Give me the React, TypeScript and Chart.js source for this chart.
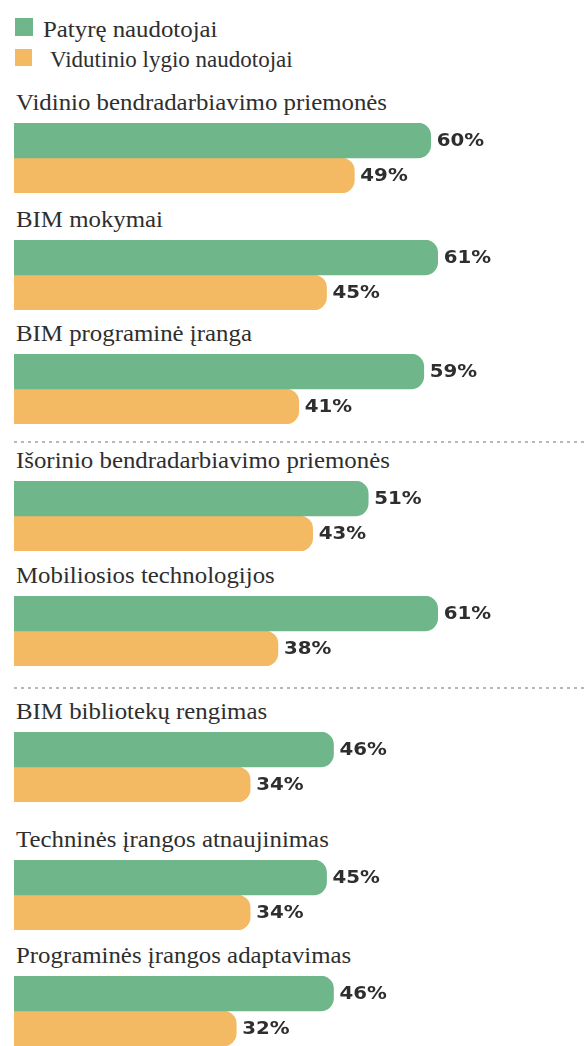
import React, { useEffect, useRef } from "react";
import { Chart, registerables } from "chart.js";

Chart.register(...registerables);

// ---- data ----
const categories = [
  "Vidinio bendradarbiavimo priemonės",
  "BIM mokymai",
  "BIM programinė įranga",
  "Išorinio bendradarbiavimo priemonės",
  "Mobiliosios technologijos",
  "BIM bibliotekų rengimas",
  "Techninės įrangos atnaujinimas",
  "Programinės įrangos adaptavimas",
];
const seriesNames = ["Patyrę naudotojai", "Vidutinio lygio naudotojai"];
const experienced = [60, 61, 59, 51, 61, 46, 45, 46];
const intermediate = [49, 45, 41, 43, 38, 34, 34, 32];

// ---- layout / style ----
const X_MAX = 82.5;
const GREEN = "#6fb68a";
const ORANGE = "#f4b963";
const TEXT = "#2e2e2e";
const groupTops = [123, 240, 354, 481, 596, 732, 860, 976];
const separators = [441, 687];
const LABEL_GAP = 13;

const valueLabels = {
  id: "valueLabels",
  afterDatasetsDraw(chart: any) {
    const ctx = chart.ctx;
    chart.data.datasets.forEach((ds: any, di: number) => {
      const meta = chart.getDatasetMeta(di);
      meta.data.forEach((el: any, j: number) => {
        ctx.save();
        ctx.font = "bold 18px 'DejaVu Sans'";
        ctx.fillStyle = TEXT;
        ctx.textBaseline = "middle";
        ctx.textAlign = "left";
        ctx.translate(el.x + 6, el.y + 1);
        ctx.scale(1.1, 1);
        ctx.fillText(ds.data[j] + "%", 0, 0);
        ctx.restore();
      });
    });
  },
};

function GroupChart({ index }: { index: number }) {
  const ref = useRef<HTMLCanvasElement | null>(null);
  useEffect(() => {
    if (!ref.current) return;
    const chart = new Chart(ref.current, {
      type: "bar",
      data: {
        labels: [categories[index]],
        datasets: [
          {
            label: seriesNames[0],
            data: [experienced[index]],
            backgroundColor: GREEN,
            borderRadius: 13,
          },
          {
            label: seriesNames[1],
            data: [intermediate[index]],
            backgroundColor: ORANGE,
            borderRadius: 13,
          },
        ],
      },
      options: {
        indexAxis: "y",
        responsive: false,
        animation: false,
        layout: { padding: { left: 14, right: 0, top: 0, bottom: 0 } },
        datasets: { bar: { categoryPercentage: 1, barPercentage: 1 } },
        scales: {
          x: { display: false, min: 0, max: X_MAX },
          y: { display: false },
        },
        plugins: { legend: { display: false }, tooltip: { enabled: false } },
      } as any,
      plugins: [valueLabels],
    });
    return () => chart.destroy();
  }, [index]);
  return (
    <canvas
      ref={ref}
      width={587}
      height={70}
      style={{ position: "absolute", left: 0, top: groupTops[index], width: 587, height: 70 }}
    />
  );
}

const serif: React.CSSProperties = {
  position: "absolute",
  fontFamily: '"Times New Roman", "Liberation Serif", Tinos, "DejaVu Serif", serif',
  fontSize: 23,
  lineHeight: "23px",
  color: TEXT,
  whiteSpace: "nowrap",
  transform: "scaleX(1.08)",
  transformOrigin: "left top",
};

export default function App() {
  return (
    <div
      style={{
        position: "absolute",
        left: 0,
        top: 0,
        width: 587,
        height: 1046,
        background: "#fff",
        overflow: "hidden",
      }}
    >
      <div style={{ position: "absolute", left: 15, top: 18, width: 18, height: 18, background: GREEN }} />
      <div style={{ ...serif, left: 43, top: 37 - 19 }}>{seriesNames[0]}</div>
      <div style={{ position: "absolute", left: 15, top: 49, width: 17, height: 17, background: ORANGE }} />
      <div style={{ ...serif, left: 50, top: 67 - 19, transform: "scaleX(1.0)" }}>{seriesNames[1]}</div>

      {separators.map((y, i) => (
        <div
          key={"sep" + i}
          style={{
            position: "absolute",
            left: 14,
            top: y,
            width: 573,
            height: 2,
            backgroundImage: "repeating-linear-gradient(to right, #b8b8b8 0 3px, transparent 3px 7px)",
          }}
        />
      ))}

      {categories.map((c, i) => (
        <React.Fragment key={c}>
          <div style={{ ...serif, left: 16, top: groupTops[i] - LABEL_GAP - 19 }}>{c}</div>
          <GroupChart index={i} />
        </React.Fragment>
      ))}
    </div>
  );
}
